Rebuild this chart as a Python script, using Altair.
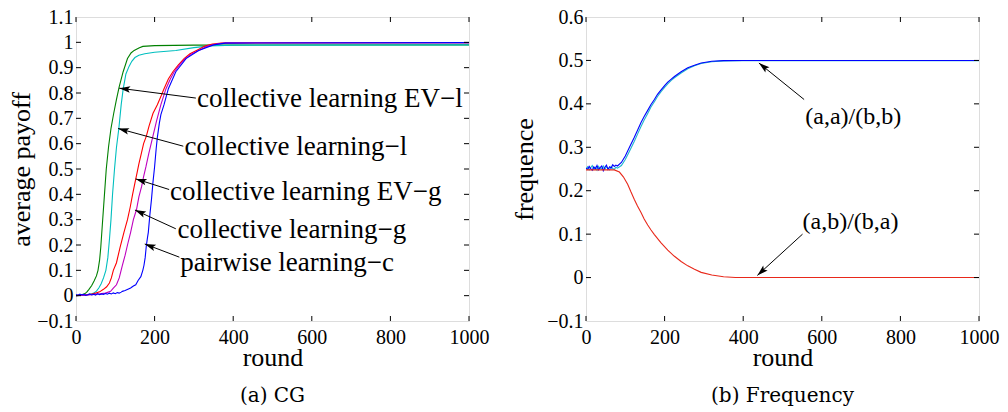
import math
import altair as alt
import pandas as pd

SERIF = "Liberation Serif"
CAPFONT = "DejaVu Serif"
W, H = 393, 304

# ---------------- left panel data (CG: average payoff) ----------------
left_names = ["collective learning EV-l", "collective learning-l", "collective learning EV-g",
              "collective learning-g", "pairwise learning-c"]
left_colors = ["#008000", "#00BFBF", "#FF0000", "#BF00BF", "#0000FF"]

green_r = [0, 10, 20, 27, 33, 40, 46, 52, 56, 60, 63, 67, 72, 77, 83, 89, 96, 103, 110, 120, 131, 140, 148, 160, 170, 200, 300, 1000]
green_v = [0.0, 0.002, 0.006, 0.013, 0.025, 0.04, 0.058, 0.078, 0.1, 0.14, 0.19, 0.28, 0.39, 0.5, 0.59, 0.66, 0.72, 0.775, 0.825, 0.884, 0.936, 0.958, 0.968, 0.978, 0.984, 0.987, 0.989, 0.99]

cyan_r = [0, 20, 35, 45, 52, 58, 64, 70, 76, 81, 85, 89, 93, 98, 103, 109, 115, 120, 127, 135, 142, 150, 160, 175, 200, 254, 300, 340, 400, 1000]
cyan_v = [0.0, 0.002, 0.005, 0.01, 0.018, 0.03, 0.047, 0.07, 0.1, 0.15, 0.22, 0.3, 0.4, 0.5, 0.586, 0.66, 0.754, 0.815, 0.875, 0.905, 0.925, 0.94, 0.949, 0.955, 0.961, 0.968, 0.979, 0.986, 0.989, 0.99]

red_r = [0, 10, 20, 30, 40, 50, 60, 70, 78, 85, 90, 95, 103, 112, 122, 131, 138, 144, 150, 156, 160, 166, 172, 179, 186, 196, 207, 217, 224, 235, 247, 260, 275, 290, 309, 328, 347, 370, 1000]
red_v = [0.0, 0.002, 0.003, 0.004, 0.006, 0.01, 0.015, 0.025, 0.035, 0.05, 0.07, 0.1, 0.13, 0.19, 0.25, 0.3, 0.35, 0.4, 0.445, 0.49, 0.52, 0.56, 0.6, 0.63, 0.67, 0.72, 0.754, 0.79, 0.817, 0.855, 0.885, 0.91, 0.936, 0.955, 0.97, 0.985, 0.993, 0.997, 0.999]

mag_r = [0, 20, 40, 60, 75, 88, 95, 103, 110, 118, 125, 131, 139, 146, 154, 160, 167, 172, 178, 185, 195, 205, 216, 229, 240, 250, 264, 278, 295, 312, 335, 360, 380, 1000]
mag_v = [0.0, 0.002, 0.004, 0.007, 0.01, 0.017, 0.03, 0.043, 0.07, 0.12, 0.16, 0.2, 0.25, 0.3, 0.34, 0.39, 0.431, 0.47, 0.509, 0.56, 0.625, 0.69, 0.754, 0.817, 0.855, 0.884, 0.912, 0.936, 0.955, 0.968, 0.985, 0.994, 0.998, 0.999]

blue_r = [0, 5, 10, 15, 20, 25, 30, 35, 40, 45, 50, 55, 60, 65, 70, 75, 80, 85, 90, 95, 100, 105, 110, 115, 118, 125, 132, 139, 146, 152, 158, 165, 170, 173, 176, 179, 182, 184, 188, 192, 196, 200, 204, 207, 212, 216, 224, 235, 254, 280, 312, 350, 380, 1000]
blue_v = [0.004, 0.002, 0.006, 0.003, 0.005, 0.001, 0.004, 0.007, 0.003, 0.006, 0.002, 0.008, 0.004, 0.007, 0.005, 0.009, 0.006, 0.01, 0.007, 0.011, 0.008, 0.012, 0.01, 0.014, 0.017, 0.02, 0.025, 0.03, 0.038, 0.043, 0.06, 0.075, 0.1, 0.12, 0.15, 0.198, 0.23, 0.25, 0.32, 0.379, 0.45, 0.509, 0.58, 0.625, 0.68, 0.715, 0.754, 0.817, 0.884, 0.936, 0.968, 0.99, 0.997, 0.999]

# ---------------- right panel data (frequency) ----------------
right_names = ["(a,a)/(b,b) 2", "(a,a)/(b,b) 1", "(a,b)/(b,a)"]
right_colors = ["#1FB5CF", "#0000FF", "#E8281A"]

fb_r = [0, 4, 8, 12, 16, 20, 24, 28, 32, 36, 40, 44, 48, 52, 56, 60, 64, 68, 72, 76, 80, 90, 100, 110, 123, 132, 140, 148, 157, 165, 174, 182, 191, 200, 208, 217, 225, 242, 259, 276, 293, 320, 350, 400, 1000]
fb_v = [0.252, 0.249, 0.256, 0.251, 0.247, 0.255, 0.25, 0.258, 0.248, 0.253, 0.257, 0.246, 0.254, 0.259, 0.249, 0.255, 0.252, 0.26, 0.256, 0.259, 0.257, 0.265, 0.28, 0.299, 0.323, 0.341, 0.357, 0.371, 0.385, 0.398, 0.41, 0.422, 0.432, 0.442, 0.45, 0.457, 0.463, 0.474, 0.483, 0.489, 0.494, 0.498, 0.4995, 0.5, 0.5]

fc_r = [0, 4, 8, 12, 16, 20, 24, 28, 32, 36, 40, 44, 48, 52, 56, 60, 64, 68, 72, 76, 80, 90, 100, 110, 123, 132, 140, 148, 157, 165, 174, 182, 191, 200, 208, 217, 225, 242, 259, 276, 293, 320, 350, 400, 1000]
fc_v = [0.25, 0.255, 0.248, 0.253, 0.258, 0.249, 0.254, 0.247, 0.256, 0.251, 0.25, 0.257, 0.249, 0.255, 0.252, 0.248, 0.256, 0.251, 0.249, 0.254, 0.252, 0.258, 0.272, 0.29, 0.314, 0.332, 0.348, 0.363, 0.378, 0.392, 0.405, 0.417, 0.428, 0.438, 0.446, 0.454, 0.46, 0.471, 0.481, 0.488, 0.493, 0.497, 0.499, 0.4995, 0.4995]

fr_r = [0, 72, 85, 95, 106, 114, 123, 131, 140, 148, 157, 165, 174, 191, 208, 225, 242, 259, 276, 293, 320, 350, 380, 1000]
fr_v = [0.248, 0.248, 0.243, 0.232, 0.215, 0.198, 0.18, 0.165, 0.15, 0.135, 0.121, 0.11, 0.099, 0.08, 0.063, 0.049, 0.037, 0.027, 0.019, 0.012, 0.006, 0.002, 0.0, 0.0]

# ---------------- axes ----------------
x_ticks = [0, 200, 400, 600, 800, 1000]
left_y_ticks = [-0.1, 0.0, 0.1, 0.2, 0.3, 0.4, 0.5, 0.6, 0.7, 0.8, 0.9, 1.0, 1.1]
right_y_ticks = [-0.1, 0.0, 0.1, 0.2, 0.3, 0.4, 0.5, 0.6]

# ---------------- annotations ----------------
left_ann_text = ["collective learning EV\u2212l", "collective learning\u2212l", "collective learning EV\u2212g",
                 "collective learning\u2212g", "pairwise learning\u2212c"]
left_ann_r = [308, 276, 239, 258, 265]
left_ann_v = [0.745, 0.554, 0.379, 0.226, 0.098]
left_tail_r = [305, 273, 237, 254, 263]
left_tail_v = [0.780, 0.590, 0.419, 0.264, 0.152]
left_tip_r = [110, 107, 152, 150, 175]
left_tip_v = [0.819, 0.660, 0.461, 0.338, 0.204]

right_ann_text = ["(a,a)/(b,b)", "(a,b)/(b,a)"]
right_ann_r = [558, 551]
right_ann_v = [0.353, 0.112]
right_tail_r = [555, 551]
right_tail_v = [0.410, 0.100]
right_tip_r = [440, 436]
right_tip_v = [0.494, 0.005]

ARROW = "M0,0L-1,-0.3L-0.8,0L-1,0.3Z"


def lines_df(names, rs, vs):
    rows = []
    for n, r, v in zip(names, rs, vs):
        for a, b in zip(r, v):
            rows.append({"series": n, "round": a, "value": b})
    return pd.DataFrame(rows)


def panel(df, names, colors, ydom, yticks, ytitle, title_x, ann, caption, ann_size):
    xs = alt.Scale(domain=[0, 1000], nice=False, zero=False)
    ys = alt.Scale(domain=ydom, nice=False, zero=False)
    xaxis = alt.Axis(values=x_ticks, format="d", labelFont=SERIF, labelFontSize=20, labelColor="black",
                     ticks=False, domain=False, grid=False, labelPadding=6, labelFlush=False,
                     labelOverlap=False,
                     title="round", titleFont=SERIF, titleFontSize=26, titleFontWeight="normal",
                     titleColor="black", titleX=W / 2, titleY=44, titleBaseline="alphabetic", titleAlign="center")
    yaxis = alt.Axis(values=yticks, format=".1~f", labelFont=SERIF, labelFontSize=20, labelColor="black",
                     ticks=False, domain=False, grid=False, labelPadding=3, labelFlush=False,
                     labelOverlap=False,
                     title=ytitle, titleFont=SERIF, titleFontSize=26, titleFontWeight="normal",
                     titleColor="black", titleAngle=270, titleX=title_x, titleY=H / 2,
                     titleBaseline="middle", titleAlign="center")
    X = lambda f: alt.X(f, scale=xs, axis=xaxis)
    Y = lambda f: alt.Y(f, scale=ys, axis=yaxis)
    lines = alt.Chart(df).mark_line(strokeWidth=1.1, clip=True).encode(
        x=X("round:Q"),
        y=Y("value:Q"),
        color=alt.Color("series:N", scale=alt.Scale(domain=names, range=colors), legend=None),
        order=alt.Order("round:Q"),
    )
    xt = pd.DataFrame({"round": x_ticks})
    yt = pd.DataFrame({"value": yticks[1:-1]})
    tick_layers = [
        alt.Chart(xt).mark_rule(color="black", strokeWidth=1).encode(
            x=X("round:Q"), y=alt.value(H), y2=alt.value(H - 5)),
        alt.Chart(xt).mark_rule(color="black", strokeWidth=1).encode(
            x=X("round:Q"), y=alt.value(0), y2=alt.value(5)),
        alt.Chart(yt).mark_rule(color="black", strokeWidth=1).encode(
            y=Y("value:Q"), x=alt.value(0), x2=alt.value(5)),
        alt.Chart(yt).mark_rule(color="black", strokeWidth=1).encode(
            y=Y("value:Q"), x=alt.value(W - 5), x2=alt.value(W)),
    ]
    texts, tr, tv, ar, av, pr, pv = ann
    sx = W / 1000.0
    sy = H / (ydom[1] - ydom[0])
    angles = []
    for a, b, c, d in zip(ar, av, pr, pv):
        dx = (c - a) * sx
        dy = -(d - b) * sy
        angles.append(math.degrees(math.atan2(dy, dx)) % 360)
    adf = pd.DataFrame({"text": texts, "round": tr, "value": tv,
                        "r1": ar, "v1": av, "r2": pr, "v2": pv, "ang": angles})
    txt = alt.Chart(adf).mark_text(font=SERIF, fontSize=ann_size, align="left", baseline="alphabetic",
                                   color="black").encode(
        x=X("round:Q"), y=Y("value:Q"), text="text:N")
    shafts = alt.Chart(adf).mark_rule(color="black", strokeWidth=1).encode(
        x=X("r1:Q"), y=Y("v1:Q"), x2="r2:Q", y2="v2:Q")
    heads = alt.Chart(adf).mark_point(shape=ARROW, filled=True, size=480, color="black",
                                      opacity=1, strokeWidth=0).encode(
        x=X("r2:Q"), y=Y("v2:Q"),
        angle=alt.Angle("ang:Q", scale=None))
    return alt.layer(lines, *tick_layers, shafts, heads, txt).properties(
        width=W, height=H,
        title=alt.TitleParams(caption, orient="bottom", frame="group", anchor="middle", offset=32,
                              font=CAPFONT, fontSize=20, fontWeight="normal", color="black",
                              baseline="alphabetic"))


left_df = lines_df(left_names, [green_r, cyan_r, red_r, mag_r, blue_r],
                   [green_v, cyan_v, red_v, mag_v, blue_v])
right_df = lines_df(right_names, [fc_r, fb_r, fr_r], [fc_v, fb_v, fr_v])

left = panel(left_df, left_names, left_colors, [-0.1, 1.1], left_y_ticks, "average payoff", -55,
             (left_ann_text, left_ann_r, left_ann_v, left_tail_r, left_tail_v, left_tip_r, left_tip_v),
             "(a) CG", 27)
right = panel(right_df, right_names, right_colors, [-0.1, 0.6], right_y_ticks, "frequence", -62,
              (right_ann_text, right_ann_r, right_ann_v, right_tail_r, right_tail_v, right_tip_r, right_tip_v),
              "(b) Frequency", 24)

chart = alt.hconcat(left, right, spacing=117, bounds="flush").resolve_scale(
    color="independent"
).properties(
    padding={"left": -1, "top": -2, "right": 0, "bottom": 10},
).configure_view(stroke="black", strokeWidth=1).configure(background="white")

chart.save("out.html", embed_options={"renderer": "svg", "actions": False})
